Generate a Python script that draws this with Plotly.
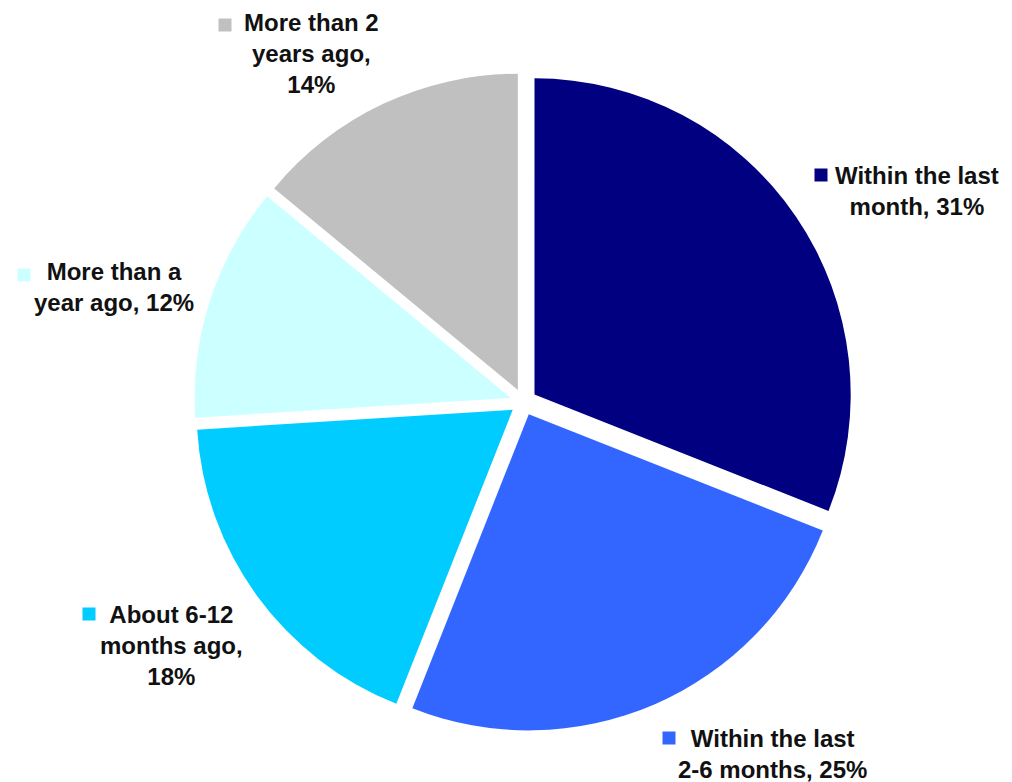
import plotly.graph_objects as go

# Survey shares: when the last event happened
categories = [
    "Within the last month",
    "Within the last 2-6 months",
    "About 6-12 months ago",
    "More than a year ago",
    "More than 2 years ago",
]
shares = [31, 25, 18, 12, 14]
colors = ["#000080", "#3366FF", "#00CCFF", "#CCFFFF", "#C0C0C0"]

# Label text for each slice (line breaks as drawn beside the pie)
label_lines = [
    ["Within the last", "month, {v}%"],
    ["Within the last", "2-6 months, {v}%"],
    ["About 6-12", "months ago,", "{v}%"],
    ["More than a", "year ago, {v}%"],
    ["More than 2", "years ago,", "{v}%"],
]

W, H = 1012, 782

# Label block centres and legend-key square centres, in pixels
label_pos = [(917, 191), (772, 754), (171, 645), (114, 287), (311, 54)]
key_pos = [(821, 175), (669, 738), (89, 614), (24, 275), (225, 25)]
KEY = 13

# Pie area (pixels): centre and overall size including the pull
CX, CY, SIZE = 523.5, 402, 659

fig = go.Figure(
    go.Pie(
        labels=categories,
        values=shares,
        sort=False,
        direction="clockwise",
        rotation=0,
        pull=[0.042] * len(shares),
        marker=dict(colors=colors, line=dict(width=0)),
        textinfo="none",
        hoverinfo="label+percent",
        showlegend=False,
        domain=dict(
            x=[(CX - SIZE / 2) / W, (CX + SIZE / 2) / W],
            y=[(H - CY - SIZE / 2) / H, (H - CY + SIZE / 2) / H],
        ),
    )
)

annotations = []
shapes = []
for lines, v, (lx, ly), (kx, ky), c in zip(label_lines, shares, label_pos, key_pos, colors):
    text = "<br>".join(s.format(v=v) for s in lines)
    annotations.append(
        dict(
            x=lx / W,
            y=1 - ly / H,
            xref="paper",
            yref="paper",
            text=text,
            showarrow=False,
            xanchor="center",
            yanchor="middle",
            align="center",
            font=dict(family="Liberation Sans, Arial", size=24, color="#111111", weight="bold"),
        )
    )
    shapes.append(
        dict(
            type="rect",
            xref="paper",
            yref="paper",
            x0=(kx - KEY / 2) / W,
            x1=(kx + KEY / 2) / W,
            y0=1 - (ky + KEY / 2) / H,
            y1=1 - (ky - KEY / 2) / H,
            fillcolor=c,
            line=dict(width=0),
        )
    )

fig.update_layout(
    width=W,
    height=H,
    margin=dict(l=0, r=0, t=0, b=0),
    paper_bgcolor="white",
    plot_bgcolor="white",
    annotations=annotations,
    shapes=shapes,
)

fig.write_html("out.html")
